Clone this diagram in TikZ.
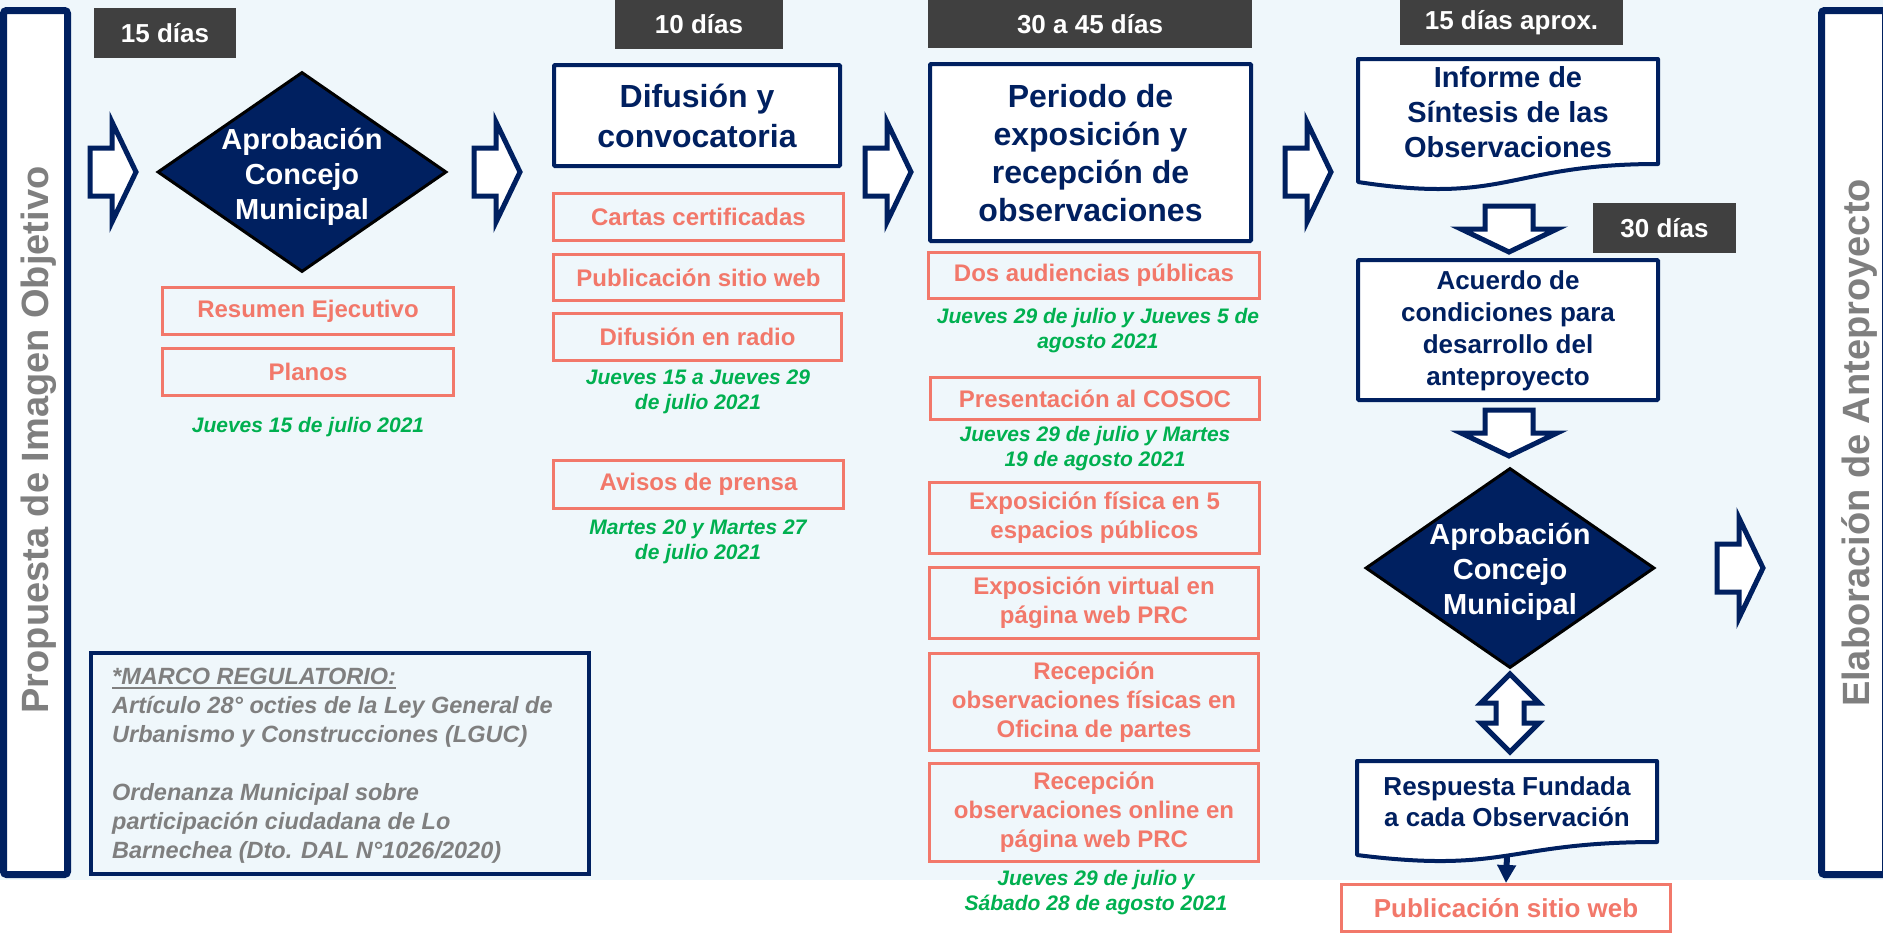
\documentclass[tikz,border=0pt]{standalone}
\usepackage{fontspec}
\setmainfont{Liberation Sans}
\usetikzlibrary{arrows.meta,shapes.geometric}
\definecolor{navy}{HTML}{002060}
\definecolor{salmon}{HTML}{F2786A}
\definecolor{grn}{HTML}{00B050}
\definecolor{txtgray}{HTML}{7F7F7F}
\definecolor{dgray}{HTML}{404040}
\definecolor{bgblue}{HTML}{EFF7FB}
\newcommand\fsz[2]{\fontsize{#1}{#2}\selectfont}
\newcommand\myul[1]{\setbox0\hbox{#1}\rlap{\rule[-4pt]{\wd0}{1.8pt}}\box0}
\begin{document}
\begin{tikzpicture}[x=1pt,y=-1pt,
  daybox/.style={fill=dgray, text=white, inner sep=0pt, font=\bfseries\fsz{26}{30}},
  navybox/.style={draw=navy, line width=4pt, fill=white, inner sep=0pt, rounded corners=1pt},
  navytext/.style={text=navy, align=center, inner sep=0pt},
  orbox/.style={draw=salmon, line width=3pt, text=salmon, align=center, inner sep=0pt, font=\bfseries\fsz{24}{29}},
  greentxt/.style={text=grn, align=center, inner sep=0pt, font=\bfseries\itshape\fsz{21}{25}},
  blockarrow/.style={draw=navy, line width=5pt, fill=white, line join=miter},
  diam/.style={diamond, draw=black, line width=3pt, fill=navy, inner sep=0pt, minimum width=289pt, minimum height=200pt},
  diamtext/.style={text=white, align=center, inner sep=0pt, font=\bfseries\fsz{29}{35}},
  sidebar/.style={draw=navy, line width=7pt, fill=white, rounded corners=3pt, minimum width=64pt, minimum height=864pt},
  sidetext/.style={text=txtgray, inner sep=0pt, font=\bfseries\fsz{38}{44}},
  rarrow/.pic={\draw[blockarrow] (-46,-24) -- (-24,-24) -- (-24,-50) -- (0,0) -- (-24,50) -- (-24,24) -- (-46,24) -- cycle;},
  darrow/.pic={\draw[blockarrow] (-24,-46) -- (24,-46) -- (24,-23) -- (48,-23) -- (0,0) -- (-48,-23) -- (-24,-23) -- cycle;}
]
\useasboundingbox (0,0) rectangle (1883,935);
\fill[white] (0,0) rectangle (1883,935);
\fill[bgblue] (0,0) rectangle (1883,880);

% side bars
\node[sidebar] (leftbar) at (35.5,442.5) {};
\node[sidetext, rotate=90] (lefttxt) at (39,440) {Propuesta de Imagen Objetivo};
\node[sidebar] (rightbar) at (1853.5,442.5) {};
\node[sidetext, rotate=90] (righttxt) at (1859,443) {Elaboración de Anteproyecto};

% day labels
\node[daybox, minimum width=142pt, minimum height=50pt] (d15) at (165,33) {15 días};
\node[daybox, minimum width=168pt, minimum height=49pt] (d10) at (699,24.5) {10 días};
\node[daybox, minimum width=324pt, minimum height=48pt] (d3045) at (1090,24) {30 a 45 días};
\node[daybox, minimum width=223pt, minimum height=45pt] (d15a) at (1511.5,22.5) {15 días aprox.};
\node[daybox, minimum width=143pt, minimum height=50pt] (d30) at (1664.5,228) {30 días};

% column 1
\pic at (136,172) {rarrow};
\node[diam] (dia1) at (302,172) {};
\node[diamtext] (dia1txt) at (302,177) {Aprobación\\Concejo\\Municipal};
\node[orbox, minimum width=291pt, minimum height=47pt] (resumen) at (308,311) {Resumen Ejecutivo};
\node[orbox, minimum width=291pt, minimum height=47pt] (planos) at (308,372) {Planos};
\node[greentxt] (g1) at (308,427) {Jueves 15 de julio 2021};

% marco
\node[draw=navy, line width=4pt, minimum width=498pt, minimum height=221pt, inner sep=0pt] (marco) at (340,763.5) {};
\node[anchor=north west, align=left, text=txtgray, inner sep=0pt, font=\bfseries\itshape\fsz{23.5}{29}] (marcotxt) at (112,668)
 {\myul{*MARCO REGULATORIO:}\\Artículo 28° octies de la Ley General de\\Urbanismo y Construcciones (LGUC)\\[29pt]Ordenanza Municipal sobre\\participación ciudadana de Lo\\Barnechea (Dto. DAL N°1026/2020)};

% column 2
\pic at (520,172) {rarrow};
\node[navybox, minimum width=286pt, minimum height=101pt] (difusion) at (697,115.5) {};
\node[navytext, font=\bfseries\fsz{32}{40}] (difusiontxt) at (697,116) {Difusión y\\convocatoria};
\node[orbox, minimum width=290pt, minimum height=47pt] (cartas) at (698.5,217) {Cartas certificadas};
\node[orbox, minimum width=290pt, minimum height=46pt] (publ) at (698.5,277.5) {Publicación sitio web};
\node[orbox, minimum width=288pt, minimum height=47pt] (radio) at (697.5,337) {Difusión en radio};
\node[greentxt] (g2) at (698,392) {Jueves 15 a Jueves 29\\de julio 2021};
\node[orbox, minimum width=290pt, minimum height=48pt] (avisos) at (698.5,484.5) {Avisos de prensa};
\node[greentxt] (g3) at (698,541.5) {Martes 20 y Martes 27\\de julio 2021};

% column 3
\pic at (911,172) {rarrow};
\node[navybox, minimum width=321pt, minimum height=177pt] (periodo) at (1090.5,152.5) {};
\node[navytext, font=\bfseries\fsz{32}{38}] (periodotxt) at (1090.5,153) {Periodo de\\exposición y\\recepción de\\observaciones};
\node[orbox, minimum width=331pt, minimum height=46pt] (dos) at (1094,275.5) {Dos audiencias públicas};
\node[greentxt] (g4) at (1098,330.5) {Jueves 29 de julio y Jueves 5 de\\agosto 2021};
\node[orbox, minimum width=329pt, minimum height=42pt] (cosoc) at (1095,398.5) {Presentación al COSOC};
\node[greentxt] (g5) at (1095,449) {Jueves 29 de julio y Martes\\19 de agosto 2021};
\node[orbox, minimum width=330pt, minimum height=71pt] (expf) at (1094.5,518) {Exposición física en 5\\espacios públicos};
\node[orbox, minimum width=329pt, minimum height=71pt] (expv) at (1094,603) {Exposición virtual en\\página web PRC};
\node[orbox, minimum width=329pt, minimum height=97pt] (recf) at (1094,702) {Recepción\\observaciones físicas en\\Oficina de partes};
\node[orbox, minimum width=329pt, minimum height=98pt] (reco) at (1094,812.5) {Recepción\\observaciones online en\\página web PRC};
\node[greentxt] (g6) at (1096,892.5) {Jueves 29 de julio y\\Sábado 28 de agosto 2021};

% column 4
\pic at (1331,172) {rarrow};
\draw[navy, line width=4pt, fill=white, line join=round] (1358,59) -- (1658,59) -- (1658,164) .. controls (1508,164) and (1508,205) .. (1358,182) -- cycle;
\node[navytext, font=\bfseries\fsz{29}{35}] (informe) at (1508,112) {Informe de\\Síntesis de las\\Observaciones};
\pic at (1509,252) {darrow};
\node[navybox, minimum width=300pt, minimum height=140pt] (acuerdo) at (1508,330) {};
\node[navytext, font=\bfseries\fsz{26}{32}] (acuerdotxt) at (1508,331) {Acuerdo de\\condiciones para\\desarrollo del\\anteproyecto};
\pic at (1509,456) {darrow};
\node[diam] (dia2) at (1510,568) {};
\node[diamtext] (dia2txt) at (1510,572) {Aprobación\\Concejo\\Municipal};
\draw[blockarrow] (1510,674) -- (1539,703) -- (1524,703) -- (1524,723) -- (1539,723) -- (1510,752) -- (1481,723) -- (1496,723) -- (1496,703) -- (1481,703) -- cycle;
\draw[navy, line width=4pt, fill=white, line join=round] (1357,761) -- (1657,761) -- (1657,842) .. controls (1507,842) and (1507,874) .. (1357,855) -- cycle;
\node[navytext, font=\bfseries\fsz{26}{31}] (respuesta) at (1507,802) {Respuesta Fundada\\a cada Observación};
\coordinate (respbot) at (1507,855);
\node[orbox, font=\bfseries\fsz{26}{30}, minimum width=329pt, minimum height=47pt] (pub2) at (1506,908) {Publicación sitio web};
\draw[navy, line width=6pt, -{Triangle[width=18pt,length=18pt]}] (respbot) -- (pub2.north);

% final arrow
\pic at (1763,568) {rarrow};
\end{tikzpicture}
\end{document}
